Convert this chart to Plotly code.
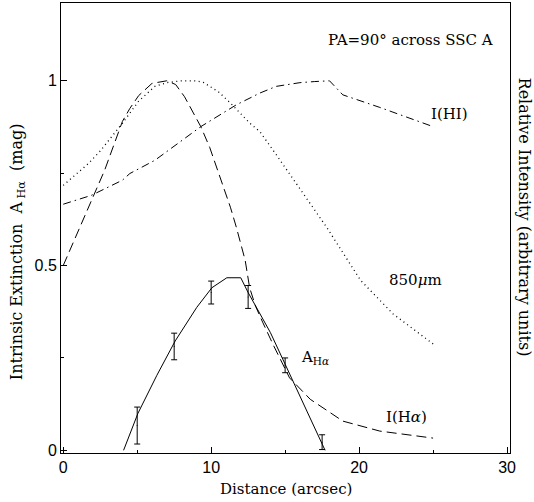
import plotly.graph_objects as go

# I(Halpha) dashed
ha_x = [0, 1.7, 2.8, 4.0, 4.5, 5.1, 6.0, 7.0, 7.6, 8.2, 9.3, 9.9, 10.6, 11.3, 11.7, 12.3, 12.6, 13.0, 13.5, 14.2, 15.3, 16.7, 18.9, 21.4, 25.0]
ha_y = [0.5, 0.658, 0.758, 0.89, 0.925, 0.96, 0.993, 1.0, 0.99, 0.957, 0.876, 0.82, 0.74, 0.658, 0.604, 0.514, 0.44, 0.39, 0.345, 0.285, 0.196, 0.138, 0.079, 0.052, 0.033]

# 850 micron dotted
smm_x = [0, 1.7, 2.5, 4.0, 5.1, 6.2, 7.0, 8.0, 9.0, 9.5, 10.5, 11.3, 12.6, 13.3, 14.4, 15.6, 17.8, 20.1, 22.3, 25.0]
smm_y = [0.717, 0.776, 0.81, 0.885, 0.945, 0.985, 0.995, 1.0, 1.0, 0.995, 0.97, 0.94, 0.886, 0.862, 0.8, 0.731, 0.604, 0.46, 0.369, 0.288]

# I(HI) dash-dot
hi_x = [0, 1.9, 4.0, 4.5, 6.2, 8.2, 9.3, 11.7, 13.3, 14.4, 16.0, 17.0, 18.0, 18.9, 21.4, 25.0]
hi_y = [0.666, 0.69, 0.731, 0.749, 0.785, 0.844, 0.876, 0.935, 0.967, 0.985, 0.995, 0.998, 1.0, 0.962, 0.928, 0.876]

# A_Halpha fit (solid)
fit_x = [4.08, 5.05, 6.33, 7.57, 9.03, 10.05, 11.06, 12.0, 12.5, 14.0, 15.0, 17.7]
fit_y = [0.0, 0.10, 0.203, 0.296, 0.387, 0.44, 0.467, 0.467, 0.427, 0.319, 0.233, 0.0]

# A_Halpha measurements with errors
pt_x = [5.0, 7.5, 10.0, 12.5, 15.0, 17.5]
pt_y = [0.067, 0.281, 0.427, 0.415, 0.23, 0.022]
pt_err = [0.05, 0.036, 0.031, 0.031, 0.02, 0.02]

xticks = [0, 10, 20, 30]
xminor = [5, 15, 25]
yticks = [0, 0.5, 1]
yticklabels = ["0", "0.5", "1"]
yminor = [0.25, 0.75]

SERIF = "DejaVu Serif"
FS = 15
fig = go.Figure()
line_w = 1
fig.add_trace(go.Scatter(x=ha_x, y=ha_y, mode="lines", line=dict(color="black", width=line_w, dash="10px,5px")))
fig.add_trace(go.Scatter(x=smm_x, y=smm_y, mode="lines", line=dict(color="black", width=1.3, dash="1px,3.5px")))
fig.add_trace(go.Scatter(x=hi_x, y=hi_y, mode="lines", line=dict(color="black", width=line_w, dash="8px,4px,1.5px,4px")))
fig.add_trace(go.Scatter(x=fit_x, y=fit_y, mode="lines", line=dict(color="black", width=line_w)))
fig.add_trace(go.Scatter(x=pt_x, y=pt_y, mode="markers", marker=dict(size=1, color="black"),
                         error_y=dict(type="data", array=pt_err, visible=True, color="black", thickness=1, width=3)))

ann = [
    dict(x=23.5, y=1.11, text="PA=90° across SSC A"),
    dict(x=26.1, y=0.91, text="I(HI)"),
    dict(x=23.8, y=0.46, text="850<i>μ</i>m"),
    dict(x=17.0, y=0.25, text="A<sub>H<i>α</i></sub>"),
    dict(x=23.2, y=0.09, text="I(H<i>α</i>)"),
]
annotations = []
for a in ann:
    annotations.append(dict(x=a["x"], y=a["y"], xref="x", yref="y", text=a["text"], showarrow=False,
                            font=dict(family=SERIF, size=FS, color="black"), xanchor="center", yanchor="middle"))
annotations.append(dict(x=0.5, y=-0.081, xref="paper", yref="paper", text="Distance (arcsec)", showarrow=False,
                        font=dict(family=SERIF, size=FS, color="black"), xanchor="center", yanchor="middle"))
annotations.append(dict(x=-0.098, y=0.4485, xref="paper", yref="paper", text="Intrinsic Extinction  A<sub> Hα</sub>  (mag)",
                        showarrow=False, textangle=-90,
                        font=dict(family=SERIF, size=16, color="black"), xanchor="center", yanchor="middle"))
annotations.append(dict(x=1.0325, y=0.524, xref="paper", yref="paper", text="Relative Intensity (arbitrary units)",
                        showarrow=False, textangle=90,
                        font=dict(family=SERIF, size=16, color="black"), xanchor="center", yanchor="middle"))

fig.update_layout(
    width=534, height=502,
    margin=dict(l=61, r=24, t=3, b=49),
    paper_bgcolor="white", plot_bgcolor="white",
    showlegend=False,
    annotations=annotations,
    xaxis=dict(range=[-0.15, 30.2], showgrid=False, zeroline=False, showline=True, linecolor="black", linewidth=1,
               mirror=True, ticks="inside", ticklen=6, tickcolor="black", tickvals=xticks,
               ticktext=[str(v) for v in xticks],
               tickfont=dict(family="Liberation Sans", size=16, color="black"),
               minor=dict(tickvals=xminor, ticks="inside", ticklen=3, tickcolor="black")),
    yaxis=dict(range=[-0.0073, 1.2106], showgrid=False, zeroline=False, showline=True, linecolor="black", linewidth=1,
               mirror=True, ticks="inside", ticklen=6, tickcolor="black", tickvals=yticks, ticktext=yticklabels,
               tickfont=dict(family="Liberation Sans", size=16, color="black"),
               minor=dict(tickvals=yminor, ticks="inside", ticklen=3, tickcolor="black")),
)
fig.write_html("out.html")
